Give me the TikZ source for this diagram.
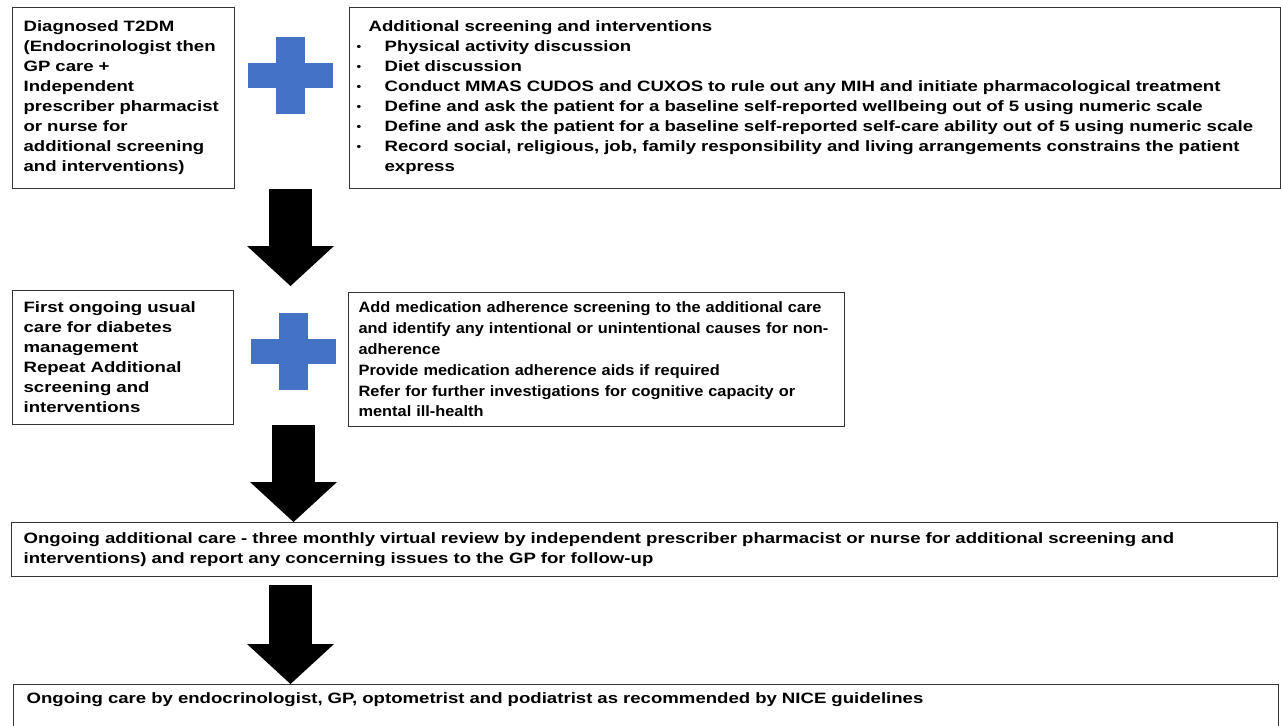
\documentclass[tikz,border=0pt]{standalone}
\usepackage{fontspec}
\newfontfamily\flowfont{Liberation Sans}[FakeStretch=1.24]
\newfontfamily\narrowfont{Liberation Sans}[FakeStretch=1.09]
\usetikzlibrary{positioning,arrows.meta,calc}
\definecolor{plusblue}{HTML}{4472C4}
\newcommand\blt{\makebox[21pt][l]{\raisebox{1pt}{\fontsize{8pt}{8pt}\selectfont\textbullet}}}
\tikzset{
  cross/.pic={\fill[plusblue] (-42.5,-12.5) rectangle (42.5,12.5);
    \fill[plusblue] (-14.5,-38.5) rectangle (14.5,38.5);},
}

\begin{document}
\begin{tikzpicture}[x=0.75pt,y=-0.75pt,
   box/.style={draw=black!80,line width=0.9pt,anchor=north west,align=left,inner xsep=8.25pt,inner ysep=0pt,
     font=\flowfont\bfseries\fontsize{11.25pt}{15pt}\selectfont},
   bigarrow/.style={line width=32.25pt,-{Triangle[length=30pt,width=65.25pt,line width=0pt]}}]
  \useasboundingbox (0,0) rectangle (1281,725);
  \clip (0,0) rectangle (1281,725);
  \node[box,text width=150pt,minimum height=135.75pt] (diag) at (12,7)
    {Diagnosed T2DM\\(Endocrinologist then\\GP care +\\Independent\\prescriber pharmacist\\or nurse for\\additional screening\\and interventions)};
  \node[box,inner xsep=5.25pt,text width=687.75pt,minimum height=135.75pt] (screen) at (349,7)
    {\hspace*{9pt}Additional screening and interventions\\
     \blt Physical activity discussion\\
     \blt Diet discussion\\
     \blt Conduct MMAS CUDOS and CUXOS to rule out any MIH and initiate pharmacological treatment\\
     \blt Define and ask the patient for a baseline self-reported wellbeing out of 5 using numeric scale\\
     \blt Define and ask the patient for a baseline self-reported self-care ability out of 5 using numeric scale\\
     \blt Record social, religious, job, family responsibility and living arrangements constrains the patient\\
     \hspace*{21pt}express};
  \coordinate (plusA) at (290.5,75.5);
  \pic at (plusA) {cross};
  \node[box,text width=149.25pt,minimum height=100.5pt] (usual) at (12,290)
    {First ongoing usual\\care for diabetes\\management\\Repeat Additional\\screening and\\interventions};
  \coordinate (plusB) at (293.5,351.5);
  \pic at (plusB) {cross};
  \node[box,font=\narrowfont\bfseries\fontsize{11.25pt}{15.6pt}\selectfont,inner xsep=7.5pt,text width=357pt,minimum height=100.5pt] (adhere) at (348,292)
    {Add medication adherence screening to the additional care\\
     and identify any intentional or unintentional causes for non-\\
     adherence\\
     Provide medication adherence aids if required\\
     Refer for further investigations for cognitive capacity or\\
     mental ill-health};
  \node[box,inner xsep=9pt,text width=931.5pt,minimum height=40.5pt] (review) at (11,522)
    {Ongoing additional care - three monthly virtual review by independent prescriber pharmacist or nurse for additional screening and\\
     interventions) and report any concerning issues to the GP for follow-up};
  \node[box,inner xsep=9.75pt,inner ysep=6pt,text width=929.25pt,text depth=36pt] (nice) at (13,684)
    {Ongoing care by endocrinologist, GP, optometrist and podiatrist as recommended by NICE guidelines};
  \draw[bigarrow,shorten >=3pt] (diag.south -| plusA) -- (usual.north -| plusA);
  \draw[bigarrow] (usual.south -| plusB) -- (review.north -| plusB);
  \draw[bigarrow,shorten <=6pt] (review.south -| plusA) -- (nice.north -| plusA);
\end{tikzpicture}
\end{document}
